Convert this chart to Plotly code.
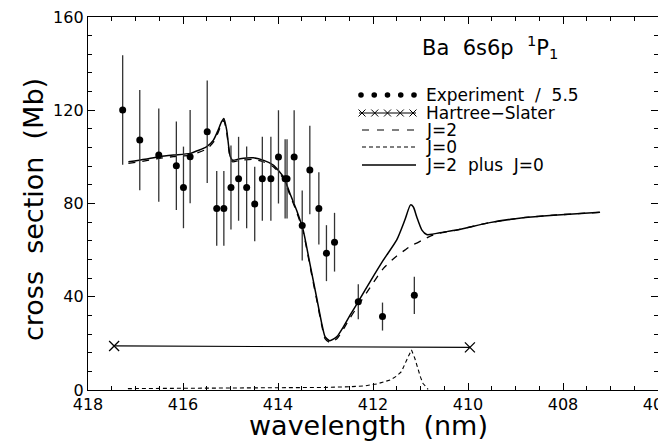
import plotly.graph_objects as go

# ---------------- data ----------------
exp_wl = [417.27, 416.91, 416.51, 416.14, 415.99, 415.85, 415.49, 415.29, 415.14,
          414.99, 414.83, 414.66, 414.49, 414.33, 414.15, 413.99, 413.85, 413.81,
          413.66, 413.49, 413.33, 413.14, 412.98, 412.81, 412.31, 411.80, 411.13]
exp_cs = [120.1, 107.2, 100.8, 96.2, 86.9, 100.1, 110.8, 77.9, 77.9,
          86.9, 90.6, 86.9, 79.8, 90.6, 90.6, 100.0, 90.6, 90.6,
          100.0, 70.6, 94.4, 77.9, 58.7, 63.4, 37.9, 31.5, 40.6]
exp_err = [23.5, 21.5, 20, 19, 17.5, 20, 22, 16, 16,
           18, 18, 17.5, 16, 18, 18, 20, 17, 17,
           20, 15, 19, 15.5, 12, 12.6, 7.5, 6, 8]

hs_wl = [417.45, 409.96]
hs_cs = [18.9, 18.3]

th_wl = [417.15, 416.8, 416.5, 416.2, 415.85, 415.5, 415.36, 415.26, 415.19, 415.14,
         415.08, 415.01, 414.96, 414.8, 414.52, 414.3, 414.1, 413.89, 413.75, 413.61,
         413.47, 413.33, 413.19, 413.08, 413.01, 412.91, 412.76, 412.62, 412.48, 412.31,
         412.06, 411.78, 411.5, 411.33, 411.21, 411.15, 411.08, 410.97, 410.87, 410.75,
         410.59, 410.24, 409.54, 408.84, 408.2, 407.22]
sum_cs = [97.9, 99.0, 100.1, 100.8, 101.5, 104.4, 107.2, 111.5, 115.0, 116.5,
          111.5, 100.5, 98.6, 99.2, 99.6, 98.5, 96.5, 91.5, 84.4, 77.2,
          68.6, 54.3, 40.0, 28.6, 22.9, 21.1, 22.9, 27.2, 32.2, 37.9,
          46.5, 55.8, 64.4, 72.9, 79.4, 78.5, 74.3, 68.6, 66.7, 66.8,
          67.5, 68.6, 71.8, 73.9, 75.0, 76.2]
j2_cs = [97.2, 98.3, 99.4, 100.1, 100.8, 103.4, 106.3, 110.5, 114.0, 115.5,
         110.5, 99.8, 97.9, 98.5, 98.9, 97.8, 95.8, 90.8, 83.7, 76.5,
         67.9, 53.5, 39.2, 27.8, 22.0, 20.4, 22.0, 26.2, 31.0, 36.3,
         44.0, 52.2, 57.5, 60.0, 61.8, 62.4, 63.0, 64.2, 65.2, 66.3,
         67.3, 68.6, 71.8, 73.9, 75.0, 76.2]

j0_wl = [417.16, 416.0, 415.0, 414.0, 413.0, 412.5, 412.2, 411.92, 411.64, 411.5,
         411.4, 411.29, 411.19, 411.12, 411.05, 411.0, 410.95, 410.84]
j0_cs = [0.6, 0.7, 0.8, 0.9, 1.1, 1.4, 1.7, 2.6, 4.3, 6.0,
         7.9, 12.9, 17.2, 13.6, 8.6, 5.5, 2.9, 0.3]

x_ticks = [418, 416, 414, 412, 410, 408, 406]
y_ticks = [0, 40, 80, 120, 160]

legend_labels = ["Experiment  /  5.5", "Hartree\u2212Slater", "J=2", "J=0", "J=2  plus  J=0"]
x_title = "wavelength\u00a0\u00a0(nm)"
y_title = "cross\u00a0\u00a0section\u00a0\u00a0(Mb)"
panel_title = "Ba\u00a0\u00a06s6p\u00a0\u00a0<sup>1</sup>P<sub>1</sub>"

# ---------------- figure ----------------
FONT = "DejaVu Sans"
fig = go.Figure()

fig.add_trace(go.Scatter(x=j0_wl, y=j0_cs, mode="lines",
                         line=dict(color="black", width=1.1, dash="4px,3px")))
fig.add_trace(go.Scatter(x=th_wl, y=j2_cs, mode="lines", line_shape="spline",
                         line=dict(color="black", width=1.3, dash="7px,7px", smoothing=0.6)))
fig.add_trace(go.Scatter(x=th_wl, y=sum_cs, mode="lines", line_shape="spline",
                         line=dict(color="black", width=1.5, smoothing=0.6)))
fig.add_trace(go.Scatter(x=hs_wl, y=hs_cs, mode="lines+markers",
                         line=dict(color="black", width=1.2),
                         marker=dict(symbol="x-thin", size=10,
                                     line=dict(color="black", width=1.3))))
fig.add_trace(go.Scatter(x=exp_wl, y=exp_cs, mode="markers",
                         marker=dict(color="black", size=7),
                         error_y=dict(type="data", array=exp_err, visible=True,
                                      width=0, thickness=1.3, color="#333333")))

# ---------------- layout geometry (screen pixels) ----------------
OFF = 8                      # default page body margin
SL, SR, ST, SB = 88, 658, 17, 390
W, H = 666, 441

def px(x): return (x - SL) / (SR - SL)
def py(y): return (SB - y) / (SB - ST)

sym_x0, sym_x1, text_x = 359, 416, 424
rows = [95, 113, 130, 147, 165]
shapes = []
for i in range(5):
    cx = px(sym_x0 + 2 + i * (sym_x1 - sym_x0 - 4) / 4)
    shapes.append(dict(type="circle", xref="paper", yref="paper",
                       xsizemode="pixel", ysizemode="pixel",
                       xanchor=cx, yanchor=py(rows[0]),
                       x0=-2.8, x1=2.8, y0=-2.8, y1=2.8,
                       fillcolor="black", line=dict(color="black", width=0)))
shapes.append(dict(type="line", xref="paper", yref="paper",
                   x0=px(sym_x0), x1=px(sym_x1), y0=py(rows[1]), y1=py(rows[1]),
                   line=dict(color="black", width=1)))
for i in range(5):
    cx = px(sym_x0 + 3 + i * (sym_x1 - sym_x0 - 6) / 4)
    for s in (1, -1):
        shapes.append(dict(type="line", xref="paper", yref="paper",
                           xsizemode="pixel", ysizemode="pixel",
                           xanchor=cx, yanchor=py(rows[1]),
                           x0=-3.5, x1=3.5, y0=-3.5 * s, y1=3.5 * s,
                           line=dict(color="black", width=1)))
for r, dash, w in ((rows[2], "7px,8px", 1.2), (rows[3], "4px,3px", 1.1), (rows[4], "solid", 1.3)):
    shapes.append(dict(type="line", xref="paper", yref="paper",
                       x0=px(sym_x0 + 3), x1=px(sym_x1), y0=py(r), y1=py(r),
                       line=dict(color="black", width=w, dash=dash)))

annotations = []
for lab, r in zip(legend_labels, rows):
    annotations.append(dict(text=lab, xref="paper", yref="paper",
                            x=px(text_x), y=py(r), xanchor="left", yanchor="middle",
                            showarrow=False, font=dict(family=FONT, size=17, color="black")))
annotations.append(dict(text=panel_title, xref="paper", yref="paper",
                        x=px(490), y=py(47), xanchor="center", yanchor="middle",
                        showarrow=False, font=dict(family=FONT, size=21, color="black")))
annotations.append(dict(text=x_title, xref="paper", yref="paper",
                        x=px(368), y=py(425), xanchor="center", yanchor="middle",
                        showarrow=False, font=dict(family=FONT, size=27, color="black")))
annotations.append(dict(text=y_title, xref="paper", yref="paper", textangle=-90,
                        x=px(33), y=py(210), xanchor="center", yanchor="middle",
                        showarrow=False, font=dict(family=FONT, size=27, color="black")))

axis_common = dict(showline=True, linecolor="black", linewidth=1.3, mirror="ticks",
                   ticks="inside", ticklen=7, tickwidth=1.1, tickcolor="black",
                   showgrid=False, zeroline=False, automargin=False,
                   ticklabeloverflow="allow",
                   tickfont=dict(family=FONT, size=16, color="black"))

fig.update_layout(
    width=W, height=H,
    margin=dict(l=SL - OFF, r=W - (SR - OFF), t=ST - OFF, b=H - (SB - OFF)),
    paper_bgcolor="white", plot_bgcolor="white",
    showlegend=False,
    shapes=shapes, annotations=annotations,
    xaxis=dict(range=[418, 406], tickvals=x_ticks,
               minor=dict(dtick=0.5, ticks="inside", ticklen=4, tickcolor="black", tickwidth=1),
               **axis_common),
    yaxis=dict(range=[0, 160], tickvals=y_ticks,
               minor=dict(dtick=8, ticks="inside", ticklen=4, tickcolor="black", tickwidth=1),
               **axis_common),
)

fig.write_html("out.html")
